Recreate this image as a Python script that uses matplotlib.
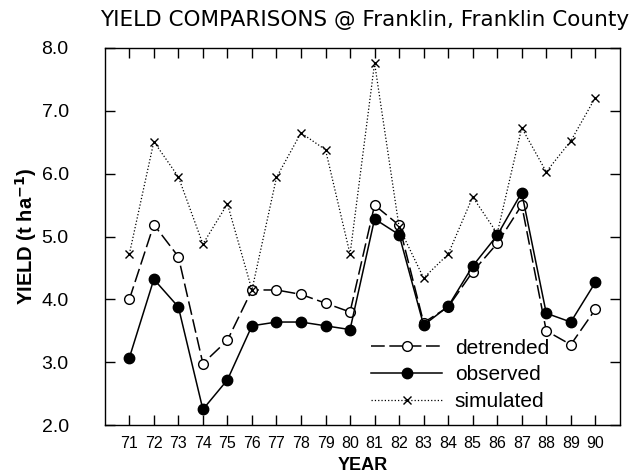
import numpy as np
import matplotlib.pyplot as plt
from matplotlib.ticker import FormatStrFormatter

years = list(range(71, 91))
detrended = [4.00, 5.19, 4.68, 2.98, 3.35, 4.15, 4.15, 4.08, 3.94, 3.80,
             5.50, 5.18, 3.63, 3.88, 4.44, 4.89, 5.50, 3.50, 3.28, 3.84]
observed = [3.07, 4.32, 3.88, 2.25, 2.72, 3.58, 3.64, 3.64, 3.58, 3.52,
            5.28, 5.03, 3.59, 3.89, 4.53, 5.02, 5.70, 3.78, 3.64, 4.27]
simulated = [4.72, 6.51, 5.95, 4.88, 5.52, 4.15, 5.94, 6.65, 6.38, 4.72,
             7.76, 5.15, 4.34, 4.72, 5.63, 5.05, 6.73, 6.03, 6.52, 7.21]

plt.rcParams['font.family'] = ['Liberation Sans', 'DejaVu Sans']

fig = plt.figure(figsize=(6.39, 4.75), dpi=100)
ax = fig.add_axes([0.164, 0.105, 0.806, 0.794])

ax.plot(years, detrended, color='black', lw=1.1, dashes=(9, 3),
        marker='o', ms=7, mfc='white', mec='black', mew=1.0, label='detrended')
ax.plot(years, observed, color='black', lw=1.1, ls='-',
        marker='o', ms=7.5, mfc='black', mec='black', label='observed')
ax.plot(years, simulated, color='black', lw=0.9, ls=':',
        marker='x', ms=6, mew=1.0, label='simulated')

ax.set_xlim(70, 91)
ax.set_ylim(2.0, 8.0)
ax.set_xticks(years)
ax.set_yticks(np.arange(2.0, 8.01, 1.0))
ax.yaxis.set_major_formatter(FormatStrFormatter('%.1f'))
ax.tick_params(direction='in', length=7, width=1.0, top=True, right=True)
ax.tick_params(axis='y', labelsize=14, pad=26)
ax.tick_params(axis='x', labelsize=11.5, pad=8)
for s in ax.spines.values():
    s.set_linewidth(1.0)

ax.set_xlabel('YEAR', fontsize=13, fontweight='bold', labelpad=4)
ax.set_ylabel('YIELD (t ha$^{\\mathbf{-1}}$)', fontsize=14.5, fontweight='bold', labelpad=2)
fig.text(0.985, 0.958, 'YIELD COMPARISONS @ Franklin, Franklin County',
         ha='right', va='center', fontsize=15.5, family='DejaVu Sans')

ax.legend(loc='center', bbox_to_anchor=(0.69, 0.133), frameon=False,
          fontsize=15, handlelength=3.4, handletextpad=0.6, labelspacing=0.38)

fig.savefig('out.png', dpi=100)
